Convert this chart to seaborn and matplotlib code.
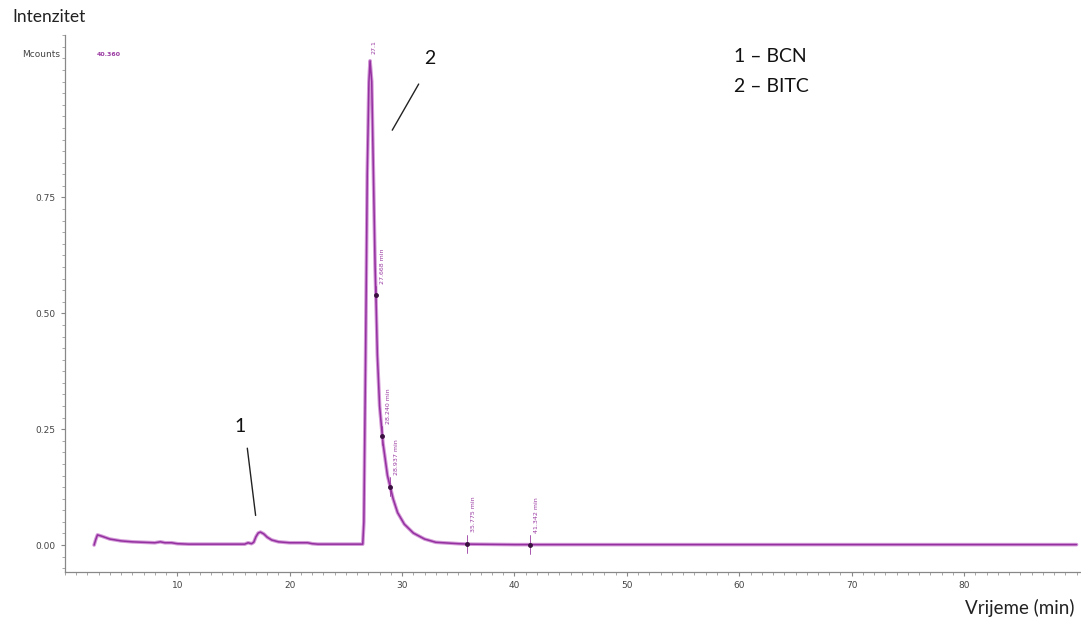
import matplotlib
matplotlib.use("Agg")
import matplotlib.pyplot as plt
import seaborn as sns
import pandas as pd
import numpy as np
from matplotlib.ticker import MultipleLocator

# chromatogram trace (time in min, intensity in Mcounts)
time_min = [2.6, 2.75, 2.9, 3.3, 4.0, 5.0, 6.0, 7.0, 8.0, 8.5, 8.9, 9.5, 10.0,
            11.0, 12.0, 13.0, 14.0, 15.0, 16.0, 16.3, 16.6, 16.8, 17.0, 17.2,
            17.4, 17.7, 18.0, 18.4, 19.0, 20.0, 21.0, 21.6, 22.0, 22.5, 24.0,
            26.0, 26.5, 26.6, 26.75, 26.9, 27.05, 27.15, 27.3, 27.45, 27.6,
            27.7, 27.8, 28.0, 28.3, 28.7, 29.2, 29.6, 30.2, 31.0, 32.0, 33.0,
            35.0, 36.0, 40.0, 50.0, 60.0, 70.0, 80.0, 90.0]
intensity = [0.0, 0.012, 0.022, 0.019, 0.013, 0.009, 0.007, 0.006, 0.005,
             0.007, 0.005, 0.005, 0.003, 0.002, 0.002, 0.002, 0.002, 0.002,
             0.002, 0.005, 0.003, 0.006, 0.018, 0.026, 0.028, 0.024, 0.017,
             0.011, 0.007, 0.005, 0.005, 0.005, 0.003, 0.002, 0.002, 0.002,
             0.002, 0.05, 0.40, 0.80, 1.00, 1.045, 1.00, 0.80, 0.60, 0.51,
             0.41, 0.30, 0.22, 0.15, 0.10, 0.07, 0.045, 0.026, 0.013, 0.006,
             0.003, 0.002, 0.001, 0.001, 0.001, 0.001, 0.001, 0.001]

# retention time labels printed by the software
rt_times = [27.668, 28.240, 28.937, 35.775, 41.342]
rt_labels = ["27.668 min", "28.240 min", "28.937 min", "35.775 min", "41.342 min"]

x_ticks = [10, 20, 30, 40, 50, 60, 70, 80]
y_ticks = [0.00, 0.25, 0.50, 0.75]
legend_lines = ["1 \u2013 BCN", "2 \u2013 BITC"]

df = pd.DataFrame({"time": time_min, "intensity": intensity})

sns.set_style("white")
plt.rcParams["font.family"] = ["Lato", "DejaVu Sans"]

fig = plt.figure(figsize=(10.81, 6.19), dpi=100)
ax = fig.add_axes([0.060, 0.076, 0.939, 0.867])

sns.lineplot(data=df, x="time", y="intensity", ax=ax, color="#d49ad8",
             linewidth=2.6, estimator=None, sort=False)
sns.lineplot(data=df, x="time", y="intensity", ax=ax, color="#9430a0",
             linewidth=1.1, estimator=None, sort=False)

purple = "#9a3aa2"
rt_vals = np.interp(rt_times, time_min, intensity)
for t, v, lab in zip(rt_times, rt_vals, rt_labels):
    ax.plot([t], [v], marker="o", markersize=2.5, color="#3a1040", zorder=5)
    ax.plot([t, t], [v - 0.02, v + 0.02], color=purple, linewidth=0.6)
    ax.text(t + 0.35, v + 0.025, lab, rotation=90, fontsize=4.5, color=purple,
            family="DejaVu Sans", ha="left", va="bottom")
ax.text(27.3, 1.06, "27.1", rotation=90, fontsize=4.5, color=purple,
        family="DejaVu Sans", ha="left", va="bottom")
ax.text(2.8, 1.058, "40.360", fontsize=4.5, color=purple, fontweight="bold",
        family="DejaVu Sans", va="center")

ax.set_xlim(0, 90.3)
ax.set_ylim(-0.058, 1.10)
ax.set_xticks(x_ticks)
ax.set_yticks(y_ticks)
ax.set_yticklabels(["%.2f" % v for v in y_ticks])
ax.xaxis.set_minor_locator(MultipleLocator(1))
ax.yaxis.set_minor_locator(MultipleLocator(0.025))
ax.tick_params(axis="both", which="major", labelsize=6.5, labelcolor="#444444",
               length=3, color="#888888", width=0.8, direction="out",
               bottom=True, left=True)
ax.tick_params(axis="both", which="minor", length=2, color="#999999",
               width=0.6, direction="out", bottom=True, left=True)
for lab in ax.get_xticklabels() + ax.get_yticklabels():
    lab.set_family("DejaVu Sans")
ax.set_xlabel("")
ax.set_ylabel("")
sns.despine(ax=ax)
ax.spines["left"].set_color("#888888")
ax.spines["bottom"].set_color("#888888")
ax.spines["left"].set_linewidth(0.9)
ax.spines["bottom"].set_linewidth(0.9)

ax.text(-0.005, 1.058, "Mcounts", transform=ax.get_yaxis_transform(),
        ha="right", va="center", fontsize=6.5, color="#444444",
        family="DejaVu Sans")

# peak callouts
ax.annotate("", xy=(17.0, 0.058), xytext=(16.2, 0.215),
            arrowprops=dict(arrowstyle="-", color="#222222", linewidth=1))
ax.text(15.6, 0.255, "1", fontsize=14, ha="center", va="center", color="#111111")
ax.annotate("", xy=(29.0, 0.89), xytext=(31.6, 1.0),
            arrowprops=dict(arrowstyle="-", color="#222222", linewidth=1))
ax.text(32.5, 1.05, "2", fontsize=14, ha="center", va="center", color="#111111")

ax.text(59.5, 1.055, legend_lines[0], fontsize=14, va="center", color="#111111")
ax.text(59.5, 0.99, legend_lines[1], fontsize=14, va="center", color="#111111")

fig.text(0.011, 0.972, "Intenzitet", fontsize=12.5, color="#222222", va="center")
fig.text(0.994, 0.018, "Vrijeme (min)", fontsize=13.5, color="#222222",
         ha="right", va="center")

fig.savefig("out.png", dpi=100)
